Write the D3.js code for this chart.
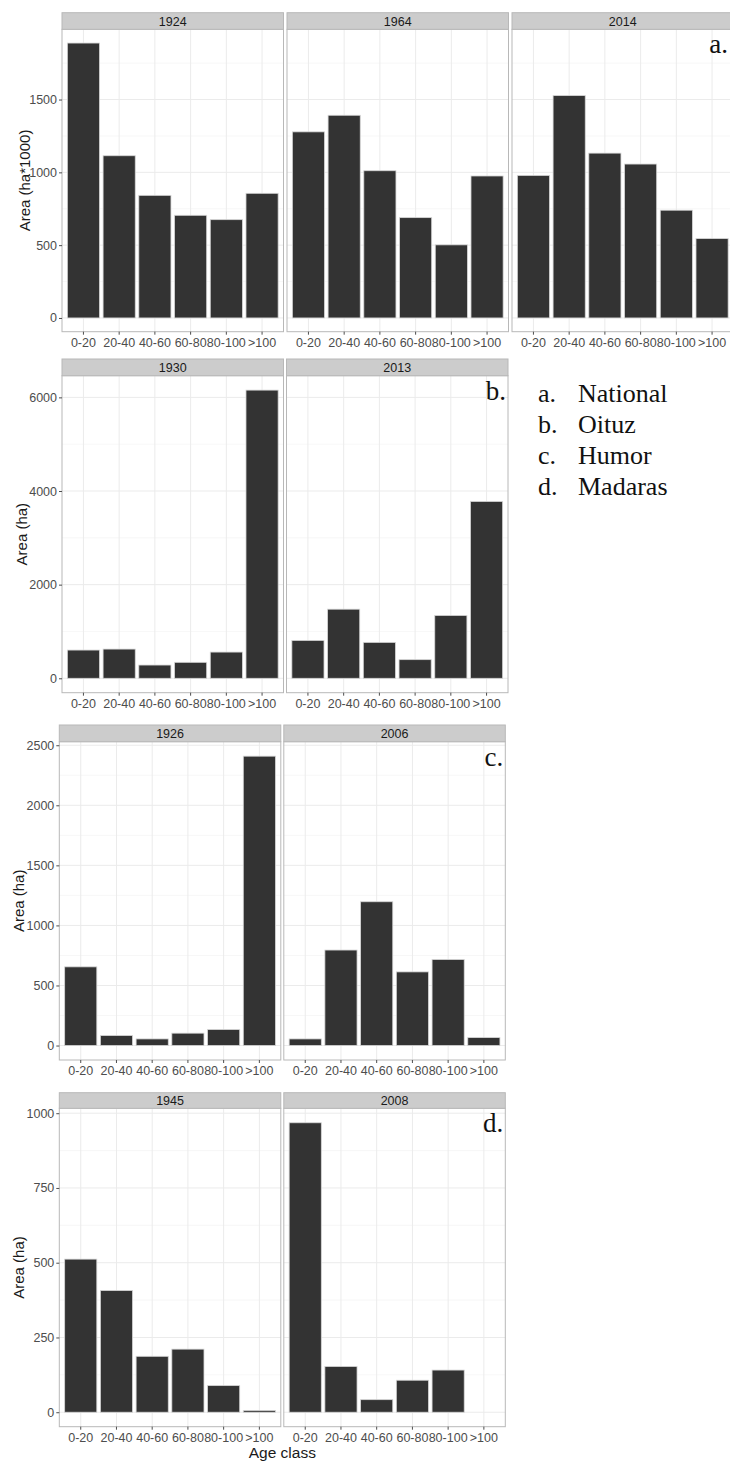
<!DOCTYPE html>
<html>
<head>
<meta charset="utf-8">
<script src="https://cdn.jsdelivr.net/npm/d3@7"></script>
<style>
  html, body { margin: 0; padding: 0; background: #fff; }
  svg { display: block; }
</style>
</head>
<body>
<svg id="chart" width="730" height="1463"></svg>
<script>
// Age classes shared by every panel
const ageClasses = ["0-20", "20-40", "40-60", "60-80", "80-100", ">100"];

// a. National (ha*1000)
const nationalYears = ["1924", "1964", "2014"];
const national1924 = [1888, 1114, 842, 705, 675, 856];
const national1964 = [1278, 1392, 1011, 689, 502, 975];
const national2014 = [979, 1527, 1132, 1057, 740, 545];
const nationalTicks = [0, 500, 1000, 1500];
const nationalMinor = [250, 750, 1250, 1750];

// b. Oituz (ha)
const oituzYears = ["1930", "2013"];
const oituz1930 = [603, 624, 283, 341, 560, 6155];
const oituz2013 = [809, 1476, 767, 398, 1342, 3777];
const oituzTicks = [0, 2000, 4000, 6000];
const oituzMinor = [1000, 3000, 5000];

// c. Humor (ha)
const humorYears = ["1926", "2006"];
const humor1926 = [655, 83, 55, 103, 133, 2409];
const humor2006 = [55, 795, 1197, 613, 716, 66];
const humorTicks = [0, 500, 1000, 1500, 2000, 2500];
const humorMinor = [250, 750, 1250, 1750, 2250];

// d. Madaras (ha)
const madarasYears = ["1945", "2008"];
const madaras1945 = [512, 407, 187, 211, 89, 6];
const madaras2008 = [968, 153, 42, 107, 141, 0];
const madarasTicks = [0, 250, 500, 750, 1000];
const madarasMinor = [125, 375, 625, 875];

const regionLetters = ["a.", "b.", "c.", "d."];
const regionNames = ["National", "Oituz", "Humor", "Madaras"];
const yTitles = ["Area (ha*1000)", "Area (ha)", "Area (ha)", "Area (ha)"];
const xTitle = "Age class";

const SANS = "'Liberation Sans', Arial, sans-serif";
const SERIF = "'Liberation Serif', 'Times New Roman', serif";

const rows = [
  { years: nationalYears, series: [national1924, national1964, national2014],
    ticks: nationalTicks, minor: nationalMinor,
    left: 62, gap: 3.5, stripTop: 12.7, stripBottom: 29.3, bottom: 331.7, titleX: 25 },
  { years: oituzYears, series: [oituz1930, oituz2013],
    ticks: oituzTicks, minor: oituzMinor,
    left: 62, gap: 3, stripTop: 359, stripBottom: 375.7, bottom: 692.7, titleX: 22 },
  { years: humorYears, series: [humor1926, humor2006],
    ticks: humorTicks, minor: humorMinor,
    left: 59.3, gap: 3, stripTop: 725, stripBottom: 741.7, bottom: 1060, titleX: 19 },
  { years: madarasYears, series: [madaras1945, madaras2008],
    ticks: madarasTicks, minor: madarasMinor,
    left: 59.3, gap: 3, stripTop: 1092.7, stripBottom: 1108.3, bottom: 1426.7, titleX: 19 }
];

const panelW = 221.5;
const svg = d3.select("#chart");

function styleTickText(sel) {
  sel.style("font-family", SANS).style("font-size", "12.5px").attr("fill", "#4D4D4D");
}

rows.forEach((row, ri) => {
  const maxV = d3.max(row.series.flat());
  const y = d3.scaleLinear()
    .domain([-0.05 * maxV, 1.05 * maxV])
    .range([row.bottom, row.stripBottom]);

  row.years.forEach((year, pi) => {
    const x0 = row.left + pi * (panelW + row.gap);
    const x = d3.scaleBand()
      .domain(ageClasses)
      .range([x0, x0 + panelW])
      .paddingInner(0.1)
      .paddingOuter(0.15);
    const g = svg.append("g");

    // panel background
    g.append("rect")
      .attr("x", x0).attr("y", row.stripBottom)
      .attr("width", panelW).attr("height", row.bottom - row.stripBottom)
      .attr("fill", "#fff");

    // minor horizontal grid
    g.selectAll(".minor").data(row.minor).enter().append("line")
      .attr("x1", x0).attr("x2", x0 + panelW)
      .attr("y1", d => y(d)).attr("y2", d => y(d))
      .attr("stroke", "#F2F2F2").attr("stroke-width", 0.6);

    // major horizontal grid
    g.selectAll(".major").data(row.ticks).enter().append("line")
      .attr("x1", x0).attr("x2", x0 + panelW)
      .attr("y1", d => y(d)).attr("y2", d => y(d))
      .attr("stroke", "#EBEBEB").attr("stroke-width", 1);

    // vertical grid at each age class
    g.selectAll(".vgrid").data(ageClasses).enter().append("line")
      .attr("x1", d => x(d) + x.bandwidth() / 2).attr("x2", d => x(d) + x.bandwidth() / 2)
      .attr("y1", row.stripBottom).attr("y2", row.bottom)
      .attr("stroke", "#EBEBEB").attr("stroke-width", 1);

    // bars
    const values = row.series[pi];
    g.selectAll(".bar").data(ageClasses.map((c, i) => ({ c, v: values[i] })))
      .enter().append("rect")
      .attr("x", d => x(d.c))
      .attr("width", x.bandwidth())
      .attr("y", d => y(d.v))
      .attr("height", d => y(0) - y(d.v))
      .attr("fill", "#333333")
      .attr("stroke", "#D6D6D6")
      .attr("stroke-width", 0.8);

    // panel border
    g.append("rect")
      .attr("x", x0).attr("y", row.stripBottom)
      .attr("width", panelW).attr("height", row.bottom - row.stripBottom)
      .attr("fill", "none").attr("stroke", "#B8B8B8").attr("stroke-width", 1);

    // strip
    g.append("rect")
      .attr("x", x0).attr("y", row.stripTop)
      .attr("width", panelW).attr("height", row.stripBottom - row.stripTop)
      .attr("fill", "#CCCCCC").attr("stroke", "#B8B8B8").attr("stroke-width", 1);
    g.append("text")
      .attr("x", x0 + panelW / 2)
      .attr("y", (row.stripTop + row.stripBottom) / 2)
      .attr("dy", "0.36em")
      .attr("text-anchor", "middle")
      .style("font-family", SANS)
      .style("font-size", "12.5px")
      .attr("fill", "#1A1A1A")
      .text(year);

    // x axis
    const xAxis = svg.append("g")
      .attr("transform", `translate(0,${row.bottom})`)
      .call(d3.axisBottom(x).tickSize(3).tickPadding(3));
    xAxis.select(".domain").remove();
    xAxis.selectAll(".tick line").attr("stroke", "#4D4D4D");
    xAxis.selectAll(".tick text").call(styleTickText);

    // y axis on the first panel of each row
    if (pi === 0) {
      const yAxis = svg.append("g")
        .attr("transform", `translate(${x0},0)`)
        .call(d3.axisLeft(y).tickValues(row.ticks).tickFormat(d3.format("d")).tickSize(3).tickPadding(2));
      yAxis.select(".domain").remove();
      yAxis.selectAll(".tick line").attr("stroke", "#4D4D4D");
      yAxis.selectAll(".tick text").call(styleTickText);
    }

    // region letter in the last panel of each row
    if (pi === row.years.length - 1) {
      const rx = ri === 0 ? 728 : x0 + panelW - 2;
      svg.append("text")
        .attr("x", rx)
        .attr("y", row.stripBottom + 24)
        .attr("text-anchor", "end")
        .style("font-family", SERIF)
        .style("font-size", "27px")
        .attr("fill", "#111")
        .text(regionLetters[ri]);
    }
  });

  // y axis title
  svg.append("text")
    .attr("transform", `translate(${row.titleX},${(row.stripBottom + row.bottom) / 2}) rotate(-90)`)
    .attr("text-anchor", "middle")
    .attr("dy", "0.36em")
    .style("font-family", SANS)
    .style("font-size", "15px")
    .attr("fill", "#1A1A1A")
    .text(yTitles[ri]);
});

// x axis title under the bottom row
const last = rows[rows.length - 1];
svg.append("text")
  .attr("x", last.left + (2 * panelW + last.gap) / 2)
  .attr("y", 1458)
  .attr("text-anchor", "middle")
  .style("font-family", SANS)
  .style("font-size", "15.5px")
  .attr("fill", "#1A1A1A")
  .text(xTitle);

// legend of regions
const legend = svg.append("g");
regionLetters.forEach((l, i) => {
  const by = 401.7 + i * 31.1;
  legend.append("text")
    .attr("x", 538).attr("y", by)
    .style("font-family", SERIF)
    .style("font-size", "26px")
    .attr("fill", "#111")
    .text(l);
  legend.append("text")
    .attr("x", 578).attr("y", by)
    .style("font-family", SERIF)
    .style("font-size", "26px")
    .attr("fill", "#111")
    .text(regionNames[i]);
});
</script>
</body>
</html>
